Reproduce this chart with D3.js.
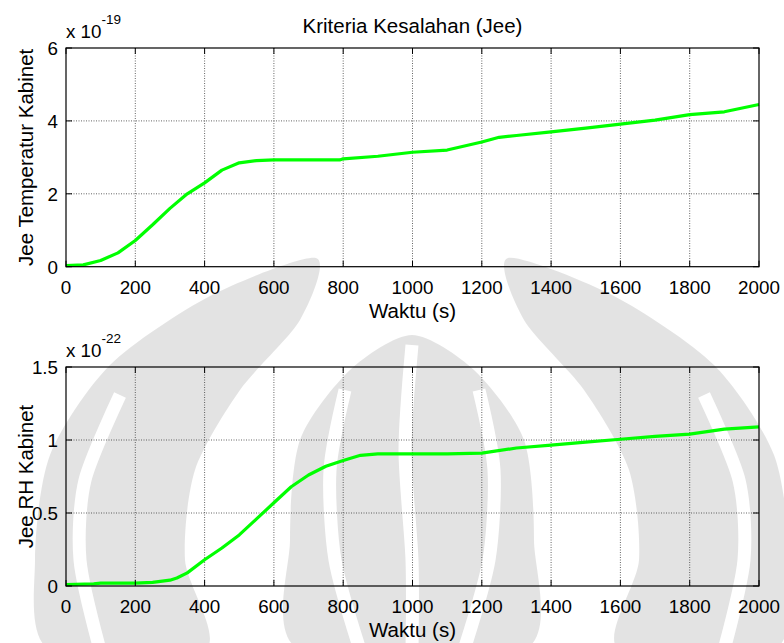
<!DOCTYPE html>
<html>
<head>
<meta charset="utf-8">
<script src="https://cdn.jsdelivr.net/npm/d3@7"></script>
<style>
  body { margin: 0; background: #fff; }
  text { font-family: "Liberation Sans", Arial, sans-serif; fill: #000; }
</style>
</head>
<body>
<div id="chart"></div>
<script>
// top panel: Jee temperature (x 1e-19)
var timeTemp = [0, 50, 100, 150, 200, 250, 300, 350, 400, 450, 500, 550, 600, 700, 790, 800, 900, 1000, 1100, 1200, 1250, 1300, 1400, 1500, 1600, 1700, 1800, 1900, 2000];
var jeeTemp  = [0.03, 0.05, 0.17, 0.38, 0.72, 1.15, 1.6, 2.0, 2.3, 2.65, 2.85, 2.91, 2.93, 2.93, 2.93, 2.96, 3.03, 3.14, 3.2, 3.42, 3.55, 3.6, 3.7, 3.8, 3.91, 4.02, 4.17, 4.25, 4.45];

// bottom panel: Jee RH (x 1e-22)
var timeRH = [0, 80, 100, 200, 250, 300, 320, 350, 400, 450, 500, 550, 600, 650, 700, 750, 800, 850, 900, 1000, 1100, 1200, 1300, 1400, 1500, 1600, 1700, 1800, 1900, 2000];
var jeeRH  = [0.01, 0.015, 0.02, 0.02, 0.025, 0.04, 0.055, 0.09, 0.18, 0.26, 0.35, 0.46, 0.57, 0.68, 0.76, 0.82, 0.86, 0.895, 0.905, 0.905, 0.905, 0.91, 0.945, 0.965, 0.985, 1.005, 1.025, 1.04, 1.075, 1.09];

var xTicks = [0, 200, 400, 600, 800, 1000, 1200, 1400, 1600, 1800, 2000];
var yTicksTemp = [0, 2, 4, 6];
var yTicksRH = [0, 0.5, 1, 1.5];

var W = 784, H = 643;
var svg = d3.select("#chart").append("svg")
    .attr("width", W)
    .attr("height", H);

var fs = 18.8;   // tick labels
var lfs = 20.5;  // title and axis labels

// faint watermark behind the figure (rough outline of the page logo)
var wm = svg.append("g");
var cx = 412;
function mirror(pts) { return pts.map(p => [2 * cx - p[0], p[1]]); }
var closedCurve = d3.line().curve(d3.curveCardinalClosed.tension(0.2));
var openCurve = d3.line().curve(d3.curveCardinal.tension(0.2));
var wing = [[316, 258], [210, 296], [110, 365], [50, 455], [35, 560], [50, 650],
            [205, 650], [185, 560], [195, 470], [240, 390], [300, 320]];
var tulip = [[412, 335], [350, 370], [300, 440], [290, 540], [300, 650],
             [524, 650], [534, 540], [524, 440], [474, 370]];
[wing, mirror(wing), tulip].forEach(function(p) {
  wm.append("path").attr("d", closedCurve(p))
    .attr("fill", "#000").attr("fill-opacity", 0.11);
});
// white cuts through the logo
var cutA = [[120, 395], [85, 480], [80, 560], [100, 650]];
var cutB = [[345, 390], [330, 470], [335, 560], [360, 650]];
var cutC = [[412, 345], [405, 450], [412, 560], [412, 650]];
[cutA, mirror(cutA), cutB, mirror(cutB), cutC].forEach(function(p) {
  wm.append("path").attr("d", openCurve(p))
    .attr("fill", "none").attr("stroke", "#fff").attr("stroke-width", 13);
});

function panel(o) {
  var x = d3.scaleLinear().domain([0, 2000]).range([66, 759]);
  var y = d3.scaleLinear().domain(o.yDomain).range([o.bottom, o.top]);
  var g = svg.append("g");

  // grid (dotted)
  g.selectAll(".gx").data(xTicks.slice(1, -1)).enter().append("line")
    .attr("x1", d => x(d)).attr("x2", d => x(d))
    .attr("y1", o.top).attr("y2", o.bottom)
    .attr("stroke", "#222").attr("stroke-width", 0.7)
    .attr("stroke-dasharray", "1,1.5");
  g.selectAll(".gy").data(o.yTicks.slice(1, -1)).enter().append("line")
    .attr("x1", 66).attr("x2", 759)
    .attr("y1", d => y(d)).attr("y2", d => y(d))
    .attr("stroke", "#222").attr("stroke-width", 0.7)
    .attr("stroke-dasharray", "1,1.5");

  // the data line
  var line = d3.line()
    .x(function(d, i) { return x(o.t[i]); })
    .y(function(d) { return y(d); });
  g.append("path")
    .datum(o.v)
    .attr("fill", "none")
    .attr("stroke", "#00ff00")
    .attr("stroke-width", 3.2)
    .attr("stroke-linejoin", "round")
    .attr("d", line);

  // ticks inward on all sides
  var tl = 6;
  xTicks.forEach(function(d) {
    g.append("line").attr("x1", x(d)).attr("x2", x(d))
      .attr("y1", o.bottom).attr("y2", o.bottom - tl).attr("stroke", "#000");
    g.append("line").attr("x1", x(d)).attr("x2", x(d))
      .attr("y1", o.top).attr("y2", o.top + tl).attr("stroke", "#000");
  });
  o.yTicks.forEach(function(d) {
    g.append("line").attr("x1", 66).attr("x2", 66 + tl)
      .attr("y1", y(d)).attr("y2", y(d)).attr("stroke", "#000");
    g.append("line").attr("x1", 759).attr("x2", 759 - tl)
      .attr("y1", y(d)).attr("y2", y(d)).attr("stroke", "#000");
  });

  // box
  g.append("rect")
    .attr("x", 66).attr("y", o.top)
    .attr("width", 759 - 66).attr("height", o.bottom - o.top)
    .attr("fill", "none").attr("stroke", "#000").attr("stroke-width", 1.2);

  // tick labels
  g.selectAll(".xl").data(xTicks).enter().append("text")
    .attr("x", d => x(d)).attr("y", o.bottom + 27)
    .attr("text-anchor", "middle").style("font-size", fs + "px")
    .text(d => d);
  g.selectAll(".yl").data(o.yTicks).enter().append("text")
    .attr("x", 58).attr("y", d => y(d) + 6.8)
    .attr("text-anchor", "end").style("font-size", fs + "px")
    .text(d => d);

  // exponent
  var ex = g.append("text").attr("x", 66).attr("y", o.top - 10)
    .style("font-size", fs + "px");
  ex.append("tspan").text("x 10");
  ex.append("tspan").attr("dy", -14).style("font-size", "13.5px").text(o.exp);

  // axis labels
  g.append("text")
    .attr("x", x(1000)).attr("y", o.bottom + 51)
    .attr("text-anchor", "middle").style("font-size", lfs + "px")
    .text("Waktu (s)");
  g.append("text")
    .attr("transform", "translate(33," + ((o.top + o.bottom) / 2) + ") rotate(-90)")
    .attr("text-anchor", "middle").style("font-size", lfs + "px")
    .text(o.ylabel);

  return x;
}

var xs = panel({ top: 48, bottom: 266.7, yDomain: [0, 6], yTicks: yTicksTemp,
  t: timeTemp, v: jeeTemp, exp: "-19", ylabel: "Jee Temperatur Kabinet" });
panel({ top: 367, bottom: 586, yDomain: [0, 1.5], yTicks: yTicksRH,
  t: timeRH, v: jeeRH, exp: "-22", ylabel: "Jee RH Kabinet" });

svg.append("text")
  .attr("x", xs(1000)).attr("y", 33)
  .attr("text-anchor", "middle").style("font-size", lfs + "px")
  .text("Kriteria Kesalahan (Jee)");
</script>
</body>
</html>
